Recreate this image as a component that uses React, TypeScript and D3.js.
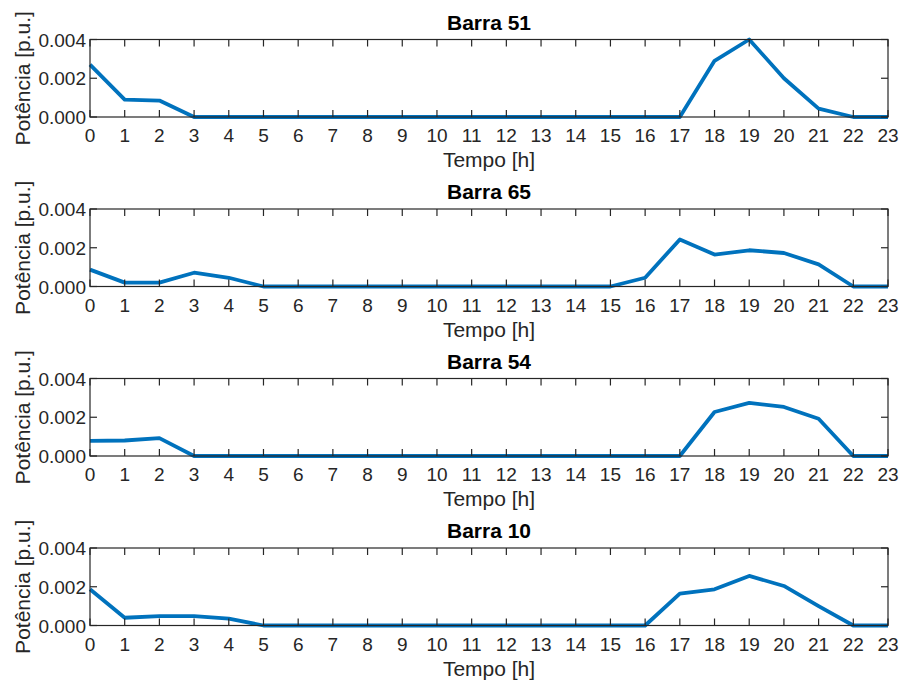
import React from 'react';
import * as d3 from 'd3';

// Horas do dia
const hours = d3.range(0, 24);

// Potência por barra [p.u.]
const barra51 = [0.0027, 0.0009, 0.00085, 0, 0, 0, 0, 0, 0, 0, 0, 0, 0, 0, 0, 0, 0, 0, 0.0029, 0.004, 0.002, 0.00043, 0, 0];
const barra65 = [0.00087, 0.0002, 0.0002, 0.00071, 0.00045, 0, 0, 0, 0, 0, 0, 0, 0, 0, 0, 0, 0.00045, 0.00243, 0.00165, 0.00187, 0.00173, 0.00114, 0, 0];
const barra54 = [0.00078, 0.0008, 0.00092, 0, 0, 0, 0, 0, 0, 0, 0, 0, 0, 0, 0, 0, 0, 0, 0.00227, 0.00274, 0.00253, 0.00192, 0, 0];
const barra10 = [0.00187, 0.0004, 0.00048, 0.00048, 0.00035, 0, 0, 0, 0, 0, 0, 0, 0, 0, 0, 0, 0, 0.00165, 0.00187, 0.00256, 0.00204, 0.001, 0, 0];

const titles = ['Barra 51', 'Barra 65', 'Barra 54', 'Barra 10'];
const series = [barra51, barra65, barra54, barra10];
const yTicks = [0, 0.002, 0.004];

const WIDTH = 904;
const HEIGHT = 684;
const LEFT = 90;
const RIGHT = 888;
const FIRST_TOP = 39.5;
const STEP = 169.5;
const PANEL_H = 77.5;
const TICK_LEN = 7;
const AXIS_COLOR = '#262626';
const LINE_COLOR = '#0072BD';
const FONT = '"Liberation Sans", Arial, Helvetica, sans-serif';

function Panel({ title, values, top }: { title: string; values: number[]; top: number }) {
  const x = d3.scaleLinear().domain([0, 23]).range([LEFT, RIGHT]);
  const y = d3.scaleLinear().domain([0, 0.004]).range([top + PANEL_H, top]);
  const bottom = top + PANEL_H;

  const line = d3.line<number>()
    .x((_, i) => x(hours[i]))
    .y(d => y(d));

  return (
    <g>
      {/* Curva */}
      <path d={line(values) || ''} fill="none" stroke={LINE_COLOR} strokeWidth={3.8} strokeLinejoin="round" />

      {/* Caixa dos eixos */}
      <rect x={LEFT} y={top} width={RIGHT - LEFT} height={PANEL_H} fill="none" stroke={AXIS_COLOR} strokeWidth={1.2} />

      {/* Marcas do eixo x (para dentro, em cima e embaixo) */}
      {hours.map(h => (
        <g key={h}>
          <line x1={x(h)} x2={x(h)} y1={bottom} y2={bottom - TICK_LEN} stroke={AXIS_COLOR} strokeWidth={1.2} />
          <line x1={x(h)} x2={x(h)} y1={top} y2={top + TICK_LEN} stroke={AXIS_COLOR} strokeWidth={1.2} />
          <text x={x(h)} y={bottom + 25} textAnchor="middle" fontSize={19} fill={AXIS_COLOR}>{h}</text>
        </g>
      ))}

      {/* Marcas do eixo y */}
      {yTicks.map(t => (
        <g key={t}>
          <line x1={LEFT} x2={LEFT + TICK_LEN} y1={y(t)} y2={y(t)} stroke={AXIS_COLOR} strokeWidth={1.2} />
          <line x1={RIGHT} x2={RIGHT - TICK_LEN} y1={y(t)} y2={y(t)} stroke={AXIS_COLOR} strokeWidth={1.2} />
          <text x={LEFT - 4} y={y(t) + 7} textAnchor="end" fontSize={19} fill={AXIS_COLOR}>{t.toFixed(3)}</text>
        </g>
      ))}

      {/* Título e rótulos */}
      <text x={(LEFT + RIGHT) / 2} y={top - 10} textAnchor="middle" fontSize={21} fontWeight="bold" fill="#000">{title}</text>
      <text x={(LEFT + RIGHT) / 2} y={bottom + 50} textAnchor="middle" fontSize={21} fill={AXIS_COLOR}>Tempo [h]</text>
      <text
        transform={`translate(30, ${top + PANEL_H / 2}) rotate(-90)`}
        textAnchor="middle"
        fontSize={21}
        fill={AXIS_COLOR}
      >
        Potência [p.u.]
      </text>
    </g>
  );
}

export default function App() {
  return (
    <svg
      width={WIDTH}
      height={HEIGHT}
      style={{ position: 'absolute', left: 0, top: 0, background: '#fff', fontFamily: FONT }}
    >
      <rect width={WIDTH} height={HEIGHT} fill="#fff" />
      {series.map((values, i) => (
        <Panel key={titles[i]} title={titles[i]} values={values} top={FIRST_TOP + i * STEP} />
      ))}
    </svg>
  );
}
